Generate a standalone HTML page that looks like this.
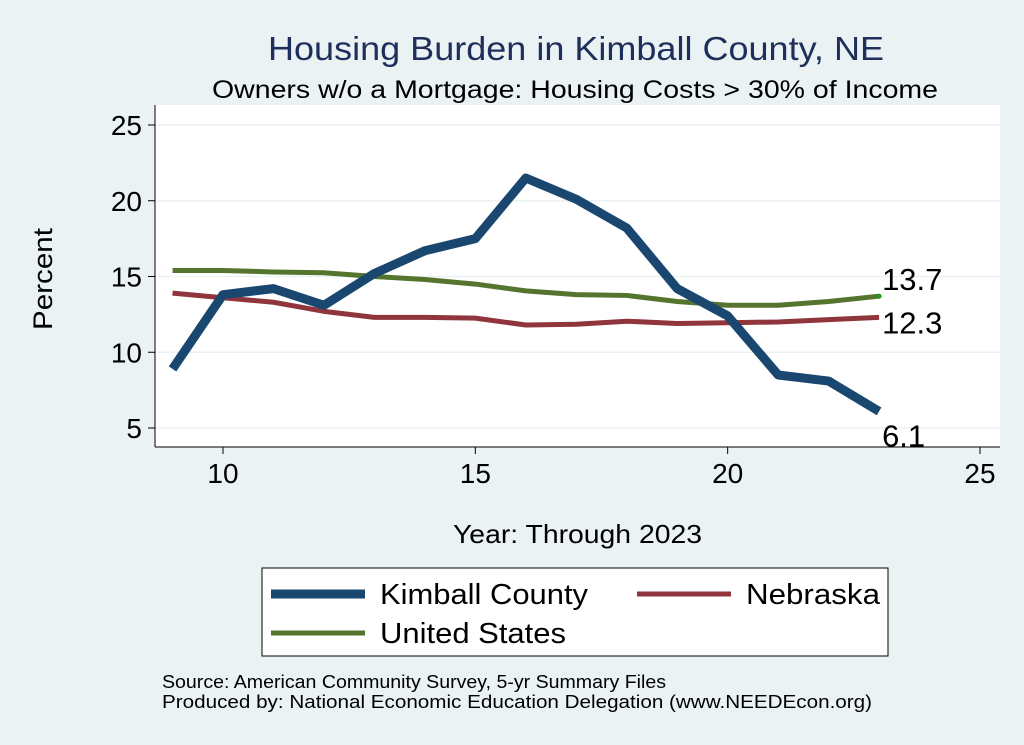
<!DOCTYPE html>
<html><head><meta charset="utf-8"><style>
body{margin:0;background:#eaf2f3;font-family:"Liberation Sans",sans-serif;}
svg{display:block}
</style></head><body>
<svg id="c" width="1024" height="745" xmlns="http://www.w3.org/2000/svg">
<rect x="0" y="0" width="1024" height="745" fill="#eaf2f3"/>
<text x="268" y="60" font-size="33" fill="#1f2f5c" textLength="616" lengthAdjust="spacingAndGlyphs">Housing Burden in Kimball County, NE</text>
<text x="212" y="98" font-size="25" fill="#000" textLength="726" lengthAdjust="spacingAndGlyphs">Owners w/o a Mortgage: Housing Costs &gt; 30% of Income</text>
<rect x="155" y="105" width="845" height="342" fill="#fff"/>
<g id="grid"></g><g id="axes"></g><g id="series"></g>
<text x="52" y="279" font-size="27" text-anchor="middle" textLength="102" lengthAdjust="spacingAndGlyphs" transform="rotate(-90 52 279)">Percent</text>
<text x="453" y="543" font-size="26" textLength="249" lengthAdjust="spacingAndGlyphs">Year: Through 2023</text>
<g>
<rect x="262" y="568" width="626" height="88" fill="#fff" stroke="#000" stroke-width="1"/>
<line x1="271" y1="594" x2="365" y2="594" stroke="#1a476f" stroke-width="9"/>
<text x="380" y="604" font-size="29" textLength="208" lengthAdjust="spacingAndGlyphs">Kimball County</text>
<line x1="637" y1="594" x2="731" y2="594" stroke="#90353b" stroke-width="5"/>
<text x="746" y="604" font-size="29" textLength="134" lengthAdjust="spacingAndGlyphs">Nebraska</text>
<line x1="271" y1="633" x2="365" y2="633" stroke="#55752f" stroke-width="5"/>
<text x="380" y="643" font-size="29" textLength="186" lengthAdjust="spacingAndGlyphs">United States</text>
</g>
<text x="162" y="688" font-size="18" textLength="504" lengthAdjust="spacingAndGlyphs">Source: American Community Survey, 5-yr Summary Files</text>
<text x="162" y="708" font-size="18" textLength="710" lengthAdjust="spacingAndGlyphs">Produced by: National Economic Education Delegation (www.NEEDEcon.org)</text>
</svg>
<script>
const years=[9,10,11,12,13,14,15,16,17,18,19,20,21,22,23];
const kimball=[8.9,13.8,14.2,13.1,15.2,16.7,17.5,21.5,20.1,18.2,14.2,12.4,8.5,8.1,6.1];
const nebraska=[13.9,13.6,13.3,12.7,12.3,12.3,12.25,11.8,11.85,12.05,11.9,11.95,12.0,12.15,12.3];
const us=[15.4,15.4,15.3,15.25,15.0,14.8,14.5,14.05,13.8,13.75,13.35,13.1,13.1,13.35,13.7];
const xTicks=[10,15,20,25];
const yTicks=[5,10,15,20,25];
const NS="http://www.w3.org/2000/svg";
const X=v=>223+(v-10)*(757/15);
const Y=v=>428-(v-5)*(303/20);
function mk(t,a,p){const e=document.createElementNS(NS,t);for(const k in a)e.setAttribute(k,a[k]);p.appendChild(e);return e;}
const grid=document.getElementById('grid'),axes=document.getElementById('axes'),ser=document.getElementById('series');
yTicks.forEach(v=>{
 const g=mk('line',{x1:155,x2:1000,y1:Y(v),y2:Y(v),stroke:'#eaf2f3','stroke-width':1.5},grid);
 
 
 const t=mk('line',{x1:148,x2:155,y1:Y(v),y2:Y(v),stroke:'#000'},axes);
 
 
 const l=mk('text',{x:142,y:Y(v)+10,'font-size':28,'text-anchor':'end'},axes);l.textContent=v;
 
 
});
xTicks.forEach(v=>{
 const t=mk('line',{x1:X(v),x2:X(v),y1:447,y2:454,stroke:'#000'},axes);
 
 
 const l=mk('text',{x:X(v),y:483,'font-size':28,'text-anchor':'middle'},axes);l.textContent=v;
 
 
});
const ya=mk('line',{x1:155,x2:155,y1:105,y2:447,stroke:'#000'},axes);


const xa=mk('line',{x1:155,x2:1000,y1:447,y2:447,stroke:'#000'},axes);


function line(data,color,w,name){
 const p=mk('polyline',{points:years.map((y,i)=>X(y)+','+Y(data[i])).join(' '),fill:'none',stroke:color,'stroke-width':w,'stroke-linejoin':'round'},ser);
 
 
}
line(nebraska,'#90353b',5,'nebraska-line');
line(us,'#55752f',5,'us-line');
line(kimball,'#1a476f',9,'kimball-line');
const n=years.length-1;
const d=mk('circle',{cx:X(years[n]),cy:Y(us[n]),r:2.5,fill:'#1a9a1a'},ser);


[[us,-6,'us-end-label'],[nebraska,16,'nebraska-end-label'],[kimball,35,'kimball-end-label']].forEach(([a,dy,nm])=>{
 const t=mk('text',{x:X(years[n])+3,y:Y(a[n])+dy,'font-size':31},ser);t.textContent=a[n].toFixed(1);
 
 
});
</script>
</body></html>
